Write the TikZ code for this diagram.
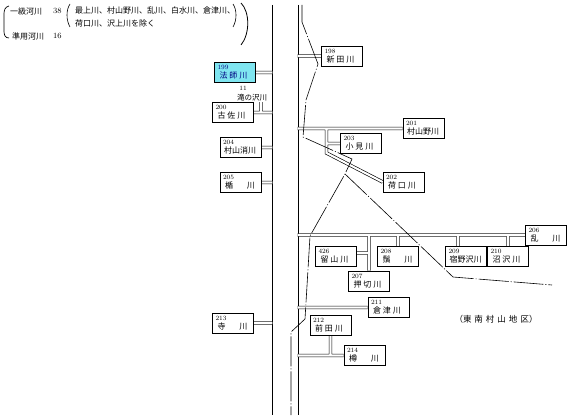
\documentclass[tikz,border=0pt]{standalone}
\usepackage{fontspec}
\newfontfamily\cjk{Noto Sans CJK JP}
\usetikzlibrary{calc,backgrounds}
\definecolor{boxcyan}{HTML}{7FE5F0}
\tikzset{
  rbox/.style={draw, line width=0.6pt, fill=white, text width=35pt, inner xsep=3pt, inner ysep=1pt,
    minimum height=20pt, align=left, font=\cjk\fontsize{8}{9}\selectfont},
  bank/.style={line width=0.7pt},
  chanblk/.style={line width=3.4pt},
  chanwht/.style={white, line width=2.1pt},
  border/.style={line width=0.6pt, dash pattern=on 30pt off 2pt on 1pt off 2pt},
  lgd/.style={font=\cjk\fontsize{8}{10}\selectfont, inner sep=0pt, anchor=west},
  lnum/.style={font=\fontsize{8}{9}\selectfont, inner sep=0pt, anchor=west},
}
\newcommand\rno[1]{{\normalfont\fontsize{6.5}{7}\selectfont #1}}
\newcommand\nthree[3]{\hspace*{2pt}\makebox[28pt]{#1\hfill#2\hfill#3}}
\newcommand\ntwo[2]{\hspace*{2pt}\makebox[30pt]{#1\hfill#2}}
\begin{document}
\begin{tikzpicture}[x=1pt, y=-1pt]
  \useasboundingbox (0,0) rectangle (570,420);
  % legend
  \node[lgd] (lg1) at (10,11) {一級河川};
  \node[lnum] (n38) at (53,11) {38};
  \node[lgd] (lg2) at (75,10) {最上川、村山野川、乱川、白水川、倉津川、};
  \node[lgd] (lg3) at (75,23) {荷口川、沢上川を除く};
  \node[lgd] (lg4) at (12,36) {準用河川};
  \node[lnum] (n16) at (53,36) {16};
  \draw[line width=0.7pt] (9,6) .. controls (5,7) and (4,10) .. (4,14) -- (4,31) .. controls (4,35) and (5,38) .. (9,38);
  \draw[line width=0.6pt] (70,4) .. controls (66,10) and (66,20) .. (70,27);
  \draw[line width=0.6pt] (233,4) .. controls (237,10) and (237,20) .. (233,27);
  \draw[line width=0.8pt] (241,3) .. controls (250,12) and (250,34) .. (241,45);
  % river boxes, left bank
  \node[rbox, fill=boxcyan, text=blue!50!black] (r199) at (235,72.5) {\rno{199}\\\nthree{法}{師}{川}};
  \node[font=\fontsize{6.5}{7}\selectfont, inner sep=0pt] (n11) at (243,88) {11};
  \node[font=\cjk\fontsize{7.5}{8}\selectfont, inner sep=0pt] (tak) at (252,97.5) {滝の沢川};
  \node[rbox] (r200) at (233,112.5) {\rno{200}\\\nthree{古}{佐}{川}};
  \node[rbox] (r204) at (240.5,147.5) {\rno{204}\\\hspace*{1pt}村山消川};
  \node[rbox] (r205) at (240.5,182.5) {\rno{205}\\\ntwo{楯}{川}};
  \node[rbox] (r213) at (233,323) {\rno{213}\\\ntwo{寺}{川}};
  % river boxes, right bank
  \node[rbox] (r198) at (342,56) {\rno{198}\\\nthree{新}{田}{川}};
  \node[rbox] (r201) at (423.5,128.5) {\rno{201}\\\hspace*{1pt}村山野川};
  \node[rbox] (r203) at (361,143.5) {\rno{203}\\\nthree{小}{見}{川}};
  \node[rbox] (r202) at (403.5,182) {\rno{202}\\\nthree{荷}{口}{川}};
  \node[rbox] (r206) at (546,235) {\rno{206}\\\ntwo{乱}{川}};
  \node[rbox] (r426) at (336,256.5) {\rno{426}\\\nthree{留}{山}{川}};
  \node[rbox] (r208) at (398,256.5) {\rno{208}\\\ntwo{鬚}{川}};
  \node[rbox] (r209) at (466,256.5) {\rno{209}\\\hspace*{1pt}宿野沢川};
  \node[rbox] (r210) at (508,256.5) {\rno{210}\\\nthree{沼}{沢}{川}};
  \node[rbox] (r207) at (369,281) {\rno{207}\\\nthree{押}{切}{川}};
  \node[rbox] (r211) at (388.5,307.5) {\rno{211}\\\nthree{倉}{津}{川}};
  \node[rbox] (r212) at (330.5,325.5) {\rno{212}\\\nthree{前}{田}{川}};
  \node[rbox] (r214) at (364.5,355.5) {\rno{214}\\\ntwo{樽}{川}};
  \node[font=\cjk\fontsize{8.5}{10}\selectfont, inner sep=0pt] (area) at (496,319)
    {（東\hspace{3pt}南\hspace{3pt}村\hspace{3pt}山\hspace{3pt}地\hspace{3pt}区）};
  % channels
  \coordinate (bankL) at (272.4,0);
  \coordinate (bankR) at (297.6,0);
  \coordinate (k202) at (326.5,153);
  \coordinate (tki) at (261,102);
  \coordinate (k209) at ($(r209.north)+(-8,0)$);
  \coordinate (k426) at ($(r426.east)+(0,-3.5)$);
  \def\chans{
    (r199.east) -- (bankL |- r199.east)
    (r200.east) -- (bankL |- r200.east)
    (tki) -- (tki |- r200.east)
    (r204.east) -- (bankL |- r204.east)
    (r205.east) -- (bankL |- r205.east)
    (r213.east) -- (bankL |- r213.east)
    (bankR |- r198.west) -- (r198.west)
    (bankR |- r201.west) -- (r201.west)
    (k202 |- r201.west) -- (k202) -- (r202.west)
    (k202 |- r203.west) -- (r203.west)
    (bankR |- r206.west) -- (r206.west)
    (r207.north |- r206.west) -- (r207.north)
    (k426) -- (r207.north |- k426)
    (r208.north |- r206.west) -- (r208.north)
    (k209 |- r206.west) -- (k209)
    (r210.north |- r206.west) -- (r210.north)
    (bankR |- r211.west) -- (r211.west)
    (bankR |- r214.west) -- (r214.west)
    (r212.south) -- (r212.south |- r214.west)
  }
  \begin{scope}[on background layer]
    \draw[bank] (272,5) -- (272,415);
    \draw[bank] (298,5) -- (298,415);
    \draw[chanblk] \chans;
    \draw[chanwht] \chans;
  \end{scope}
  % boundary lines
  \draw[border] (302,5) -- (302,22) -- (318,64) -- (306,100) -- (303,137) -- (352,159) -- (345,174)
    -- (310,236) -- (305,319) -- (291,332) -- (291,415);
  \draw[border] (345,174) -- (453,277) -- (552,285);
\end{tikzpicture}
\end{document}
